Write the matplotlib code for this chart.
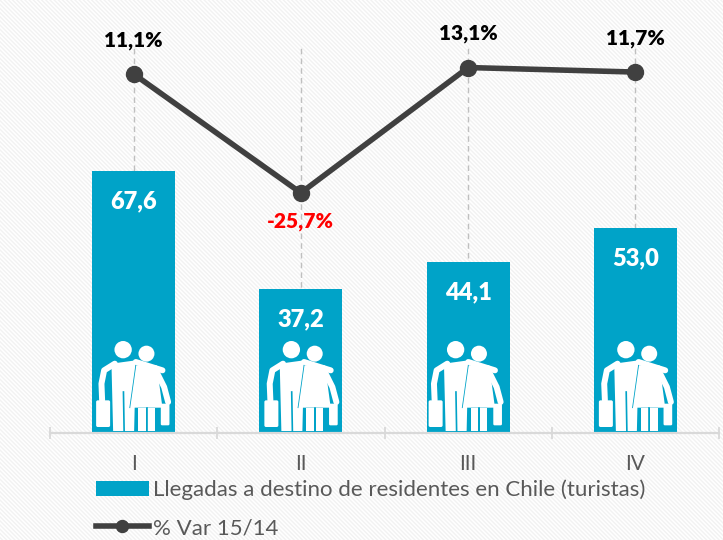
import matplotlib
matplotlib.use("Agg")
import matplotlib.pyplot as plt
from matplotlib.patches import Rectangle, Circle, Polygon, FancyBboxPatch
from matplotlib.lines import Line2D
from matplotlib.transforms import Affine2D

categories = ["I", "II", "III", "IV"]
llegadas = [67.6, 37.2, 44.1, 53.0]
variacion = [11.1, -25.7, 13.1, 11.7]
bar_labels = ["67,6", "37,2", "44,1", "53,0"]
var_labels = ["11,1%", "-25,7%", "13,1%", "11,7%"]
var_colors = ["black", "#ff0000", "black", "black"]
var_offsets = [33, -29, 34, 34]
icon_shift = [3, 4, 1, 4]
legend_labels = ["Llegadas a destino de residentes en Chile (turistas)", "% Var 15/14"]

TEAL = "#00a3c8"
DARK = "#404040"
GRAY = "#d9d9d9"
TXT = "#595959"
FONT = "Lato"
W, H = 723, 540

fig = plt.figure(figsize=(W / 100, H / 100), dpi=100)
fig.patch.set_facecolor("white")
fig.add_artist(Rectangle((0, 0), 1, 1, transform=fig.transFigure, facecolor="white",
                         edgecolor="#f2f2f2", hatch="\\" * 8, lw=0, zorder=-10))

left, right, top, base = 50, 719, 10, 433
ax = fig.add_axes([left / W, 1 - base / H, (right - left) / W, (base - top) / H])
ax.patch.set_alpha(0)
ax.set_xlim(-0.5, 3.5)
ax.set_ylim(0, (base - top) / 3.876)
x = list(range(len(categories)))

ax.vlines(x, 0, (base - 45) / 3.876, colors="#bfbfbf", linestyles=(0, (4, 3)), lw=1, zorder=1)
bars = ax.bar(x, llegadas, width=0.497, color=TEAL, zorder=2, label=legend_labels[0])
for xi, v, s in zip(x, llegadas, bar_labels):
    ax.annotate(s, (xi, v), xytext=(0, -30.5 * 0.72), textcoords="offset points", ha="center",
                va="center", color="white", fontsize=17, fontweight="heavy", family=FONT, zorder=5)

for s in ["top", "left", "right"]:
    ax.spines[s].set_visible(False)
ax.spines["bottom"].set_color(GRAY)
ax.spines["bottom"].set_linewidth(1.6)
ax.set_yticks([])
ax.set_xticks([-0.5, 0.5, 1.5, 2.5, 3.5])
ax.set_xticklabels([])
ax.tick_params(axis="x", length=9, width=1.3, color=GRAY, direction="inout")
ax.set_xticks(x, minor=True)
ax.set_xticklabels(categories, minor=True, fontsize=15, color=TXT, family=FONT)
ax.tick_params(axis="x", which="minor", length=0, pad=15)

# traveller pictogram, drawn in reference-crop units around each bar's centre
def icon(xi, shift):
    px, py = ax.transData.transform((xi, 0))
    tr = Affine2D().translate(-127.5, -338).scale(1 / 3, -1 / 3).translate(px + shift, py)
    kw = dict(transform=tr, facecolor="white", edgecolor="none", zorder=3, clip_on=False)
    adds = [
        Circle((87, 88), 26, **kw),
        Circle((157, 100), 24, **kw),
        Polygon([(52, 130), (125, 120), (120, 332), (57, 332)], **kw),
        Polygon([(125, 135), (188, 135), (205, 262), (107, 262)], **kw),
        Polygon([(132, 262), (155, 262), (155, 332), (132, 332)], **kw),
        Polygon([(160, 262), (182, 262), (182, 332), (160, 332)], **kw),
        FancyBboxPatch((6, 240), 42, 80, boxstyle="round,pad=0,rounding_size=5", **kw),
        FancyBboxPatch((200, 250), 26, 65, boxstyle="round,pad=0,rounding_size=4", **kw),
    ]
    for a in adds:
        fig.add_artist(a)
    lk = dict(transform=tr, color="white", lw=4.3, solid_capstyle="round", zorder=3)
    fig.add_artist(Line2D([62, 30, 22, 24], [130, 150, 190, 240], **lk))
    fig.add_artist(Line2D([125, 205], [125, 150], **lk))
    fig.add_artist(Line2D([190, 210, 222], [160, 200, 245], **lk))
    fig.add_artist(Line2D([88, 90], [215, 332], transform=tr, color=TEAL, lw=1.2, zorder=4))
    fig.add_artist(Line2D([125, 107], [135, 262], transform=tr, color=TEAL, lw=0.6, zorder=4))
    fig.add_artist(Line2D([157.5, 157.5], [262, 332], transform=tr, color=TEAL, lw=1.2, zorder=4))

for xi, s in zip(x, icon_shift):
    icon(xi, s)

ax2 = ax.twinx()
ax2.patch.set_alpha(0)
ax2.set_ylim(11.1 - (base - 74) / 3.23, 11.1 + (74 - top) / 3.23)
ax2.axis("off")
line, = ax2.plot(x, variacion, color=DARK, lw=4, marker="o", ms=11.5, zorder=6, label=legend_labels[1])
for xi, v, s, c, o in zip(x, variacion, var_labels, var_colors, var_offsets):
    ax2.annotate(s, (xi, v), xytext=(0, o * 0.72), textcoords="offset points", ha="center",
                 va="center", color=c, fontsize=15, fontweight="heavy", family=FONT, zorder=7)

leg = fig.legend(handles=[bars, line], labels=legend_labels, loc="upper left",
                 bbox_to_anchor=(89 / W, 1 - 473 / H), frameon=False,
                 handlelength=2.4, handleheight=0.65, handletextpad=0.2, labelspacing=0.8,
                 markerscale=0.75, prop={"family": FONT, "size": 16}, labelcolor=TXT,
                 borderaxespad=0, borderpad=0.3)

fig.savefig("out.png", dpi=100)
